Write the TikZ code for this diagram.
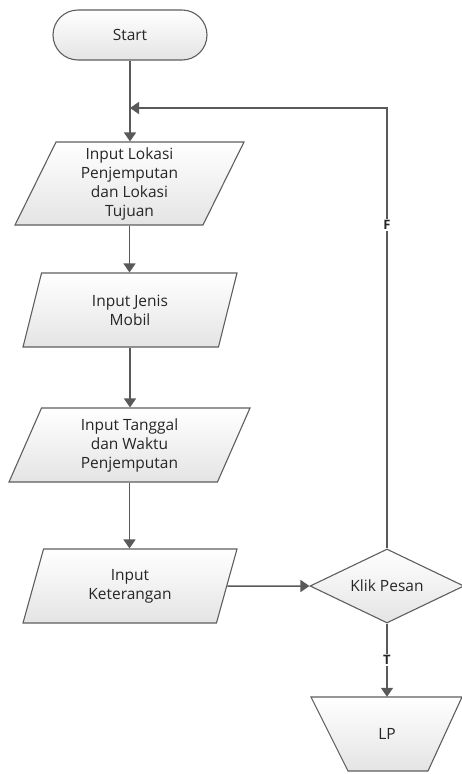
\documentclass[tikz,border=0pt]{standalone}
\usepackage{fontspec}
\setmainfont{Open Sans}
\usetikzlibrary{shapes.geometric,shapes.misc,arrows.meta}
\definecolor{bordergray}{HTML}{5E5E5E}
\definecolor{fillgray}{HTML}{E4E4E4}
\definecolor{linegray}{HTML}{595959}
\definecolor{txt}{HTML}{262626}
\begin{document}
\begin{tikzpicture}[x=1pt,y=-1pt,
  shp/.style={draw=bordergray, line width=1.1pt, top color=white, bottom color=fillgray,
    text=txt, font=\fontsize{15.5}{19}\selectfont, align=center, inner sep=0pt},
  para/.style={shp, trapezium, trapezium left angle=#1, trapezium right angle=180-#1,
    trapezium stretches body},
  conn/.style={draw=linegray, line width=1.5pt},
  arr/.style={conn, -{Triangle[width=12pt,length=9pt]}},
  lab/.style={fill=white, text=txt, font=\fontsize{13}{14}\selectfont\bfseries, inner sep=1.5pt}]
\useasboundingbox (0,0) rectangle (462,774);
\node[shp, rounded rectangle, minimum width=154pt, minimum height=50pt] (start) at (130,35) {Start};
\node[para=60.5, minimum width=229pt, minimum height=83pt] (p1) at (129.5,183.5) {Input Lokasi\\Penjemputan\\dan Lokasi\\Tujuan};
\node[para=58.7, minimum width=214pt, minimum height=74pt] (p2) at (130,310) {Input Jenis\\Mobil};
\node[para=58.7, minimum width=241pt, minimum height=74pt] (p3) at (129.5,445) {Input Tanggal\\dan Waktu\\Penjemputan};
\node[para=58.7, minimum width=214pt, minimum height=74pt] (p4) at (130,586) {Input\\Keterangan};
\node[shp, diamond, aspect=2, minimum width=154pt, minimum height=74pt] (kp) at (387,586) {Klik Pesan};
\path[shp] (311,697) -- (462,697) -- (428,771) -- (348,771) -- cycle;
\node[text=txt, font=\fontsize{15.5}{19}\selectfont, minimum width=80pt, minimum height=74pt, inner sep=0pt] (lp) at (387,734) {LP};
\coordinate (j) at (130,108);
\coordinate (corner) at (387,108);
\draw[arr] (start.south) -- (start.south |- p1.north);
\draw[arr] (p1.south) -- (p1.south |- p2.north);
\draw[arr] (p2.south) -- (p2.south |- p3.north);
\draw[arr] (p3.south) -- (p3.south |- p4.north);
\draw[arr] (p4.east) -- (kp.west);
\draw[arr] (kp.north) -- node[lab, pos=0.735] {F} (corner) -- (j);
\draw[arr] (kp.south) -- node[lab] {T} (lp.north);
\end{tikzpicture}
\end{document}
